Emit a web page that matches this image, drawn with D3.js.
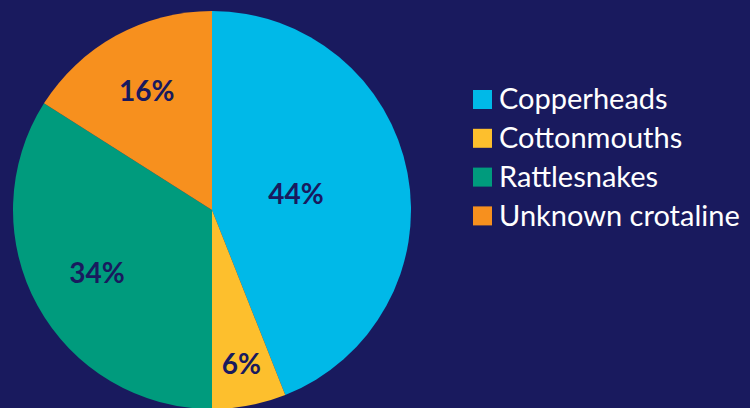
<!DOCTYPE html>
<html>
<head>
<meta charset="utf-8">
<script src="https://cdn.jsdelivr.net/npm/d3@7"></script>
<style>
  html, body { margin: 0; padding: 0; background: #191a5e; }
  #chart { width: 750px; height: 408px; overflow: hidden; }
  .slice-label { font-family: Lato, "Open Sans", sans-serif; font-weight: bold; font-size: 28px; fill: #191a5e; }
  .legend-label { font-family: Lato, "Open Sans", sans-serif; font-size: 29px; fill: #ffffff; }
</style>
</head>
<body>
<div id="chart"></div>
<script>
const categories = ['Copperheads', 'Cottonmouths', 'Rattlesnakes', 'Unknown crotaline'];
const shares = [44, 6, 34, 16];
const colors = ['#00b9e8', '#fdbf2d', '#009b7d', '#f7901e'];

// label distance from centre, as fraction of the radius (matches the original placement)
const labelRadius = { 'Copperheads': 0.43, 'Cottonmouths': 0.79, 'Rattlesnakes': 0.66, 'Unknown crotaline': 0.68 };

const W = 750, H = 408;
const cx = 212, cy = 210, radius = 199;

const svg = d3.select('#chart').append('svg')
  .attr('width', W)
  .attr('height', H);

const data = categories.map((c, i) => ({ name: c, value: shares[i], color: colors[i] }));

const pie = d3.pie().sort(null).value(d => d.value);
const arc = d3.arc().innerRadius(0).outerRadius(radius);

const g = svg.append('g').attr('transform', `translate(${cx},${cy})`);

const arcs = pie(data);

g.selectAll('path.slice')
  .data(arcs)
  .enter()
  .append('path')
  .attr('class', 'slice')
  .attr('d', arc)
  .attr('fill', d => d.data.color);

g.selectAll('text.slice-label')
  .data(arcs)
  .enter()
  .append('text')
  .attr('class', 'slice-label')
  .attr('transform', d => {
    const r = radius * labelRadius[d.data.name];
    const a = (d.startAngle + d.endAngle) / 2;
    return `translate(${Math.sin(a) * r},${-Math.cos(a) * r})`;
  })
  .attr('text-anchor', 'middle')
  .attr('dy', '0.35em')
  .text(d => d.data.value + '%');

const legend = svg.append('g').attr('transform', 'translate(473,99)');
const rowH = 38.8;

const items = legend.selectAll('g.legend-item')
  .data(data)
  .enter()
  .append('g')
  .attr('class', 'legend-item')
  .attr('transform', (d, i) => `translate(0,${i * rowH})`);

items.append('rect')
  .attr('x', 0)
  .attr('y', -9)
  .attr('width', 19)
  .attr('height', 19)
  .attr('fill', d => d.color);

items.append('text')
  .attr('class', 'legend-label')
  .attr('x', 26)
  .attr('dy', '0.36em')
  .text(d => d.name);
</script>
</body>
</html>
